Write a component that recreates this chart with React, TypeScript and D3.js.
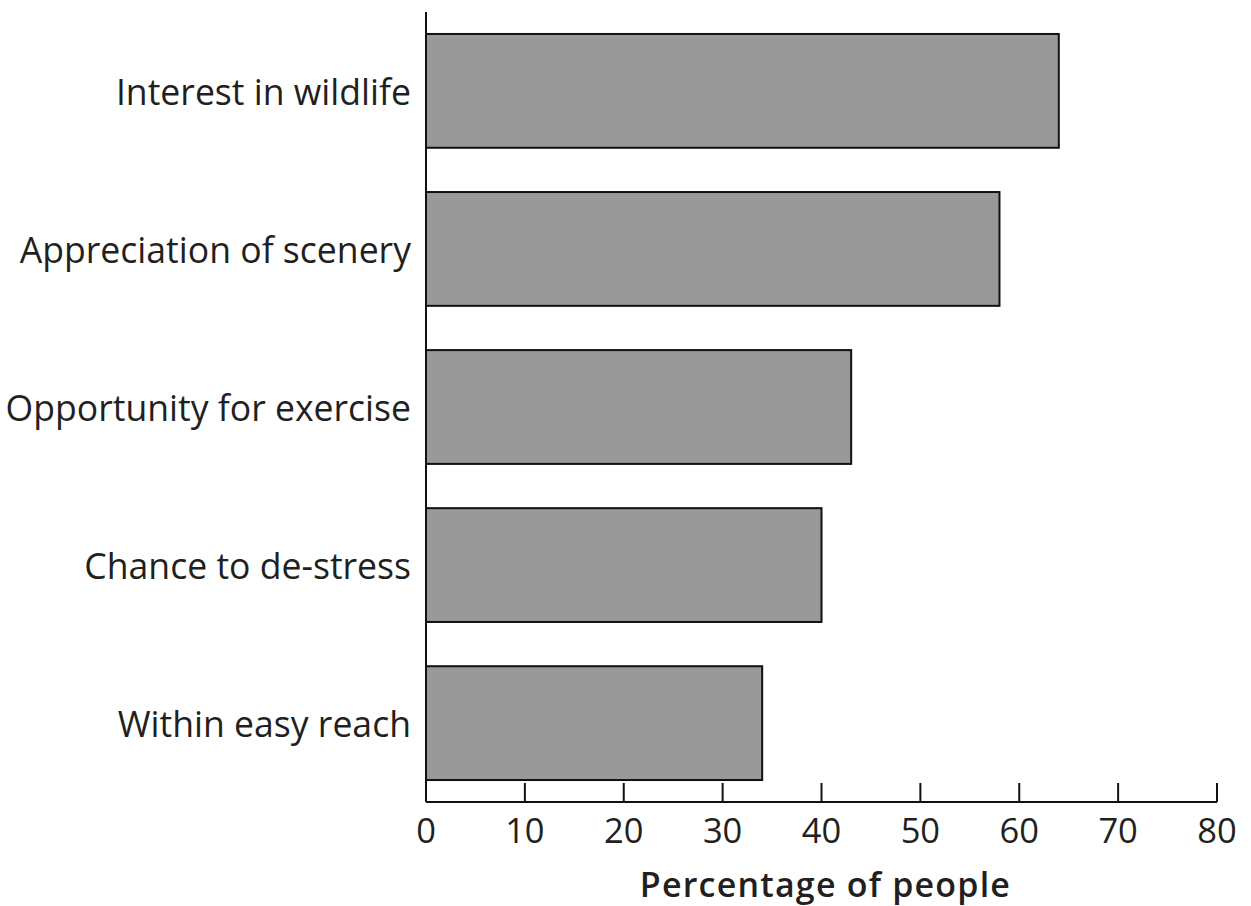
import React from "react";
import * as d3 from "d3";

const categories = [
  "Interest in wildlife",
  "Appreciation of scenery",
  "Opportunity for exercise",
  "Chance to de-stress",
  "Within easy reach",
];
const values = [64, 58, 43, 40, 34];
const xTicks = [0, 10, 20, 30, 40, 50, 60, 70, 80];
const xTitle = "Percentage of people";

export default function App() {
  const W = 1251;
  const H = 906;
  const left = 426;
  const right = 1217;
  const top = 12;
  const bottom = 802;

  const x = d3.scaleLinear().domain([0, 80]).range([left, right]);
  const y = d3
    .scaleBand<string>()
    .domain(categories)
    .range([top, bottom])
    .paddingInner(0.28)
    .paddingOuter(0.139);

  const font = "'Open Sans', sans-serif";

  return (
    <svg
      width={W}
      height={H}
      style={{ position: "absolute", left: 0, top: 0, background: "#fff" }}
    >
      {categories.map((c, i) => (
        <g key={c}>
          <rect
            x={x(0)}
            y={y(c)!}
            width={x(values[i]) - x(0)}
            height={y.bandwidth()}
            fill="#999999"
            stroke="#111"
            strokeWidth={2}
          />
          <text
            x={411}
            y={y(c)! + y.bandwidth() / 2 + 14}
            textAnchor="end"
            fontFamily={font}
            fontSize={35.6}
            fill="#231f20"
          >
            {c}
          </text>
        </g>
      ))}
      <line x1={left} x2={left} y1={top} y2={bottom} stroke="#111" strokeWidth={2} />
      <line x1={left} x2={right} y1={bottom} y2={bottom} stroke="#111" strokeWidth={2} />
      {xTicks.map((t) => (
        <g key={t}>
          <line x1={x(t)} x2={x(t)} y1={bottom} y2={bottom - 19} stroke="#111" strokeWidth={2} />
          <text
            x={x(t)}
            y={843}
            textAnchor="middle"
            fontFamily={font}
            fontSize={34.5}
            fill="#231f20"
          >
            {t}
          </text>
        </g>
      ))}
      <text
        x={(left + right) / 2 + 4}
        y={897}
        textAnchor="middle"
        fontFamily={font}
        fontSize={34}
        fontWeight={600}
        letterSpacing={1.2}
        fill="#231f20"
      >
        {xTitle}
      </text>
    </svg>
  );
}
